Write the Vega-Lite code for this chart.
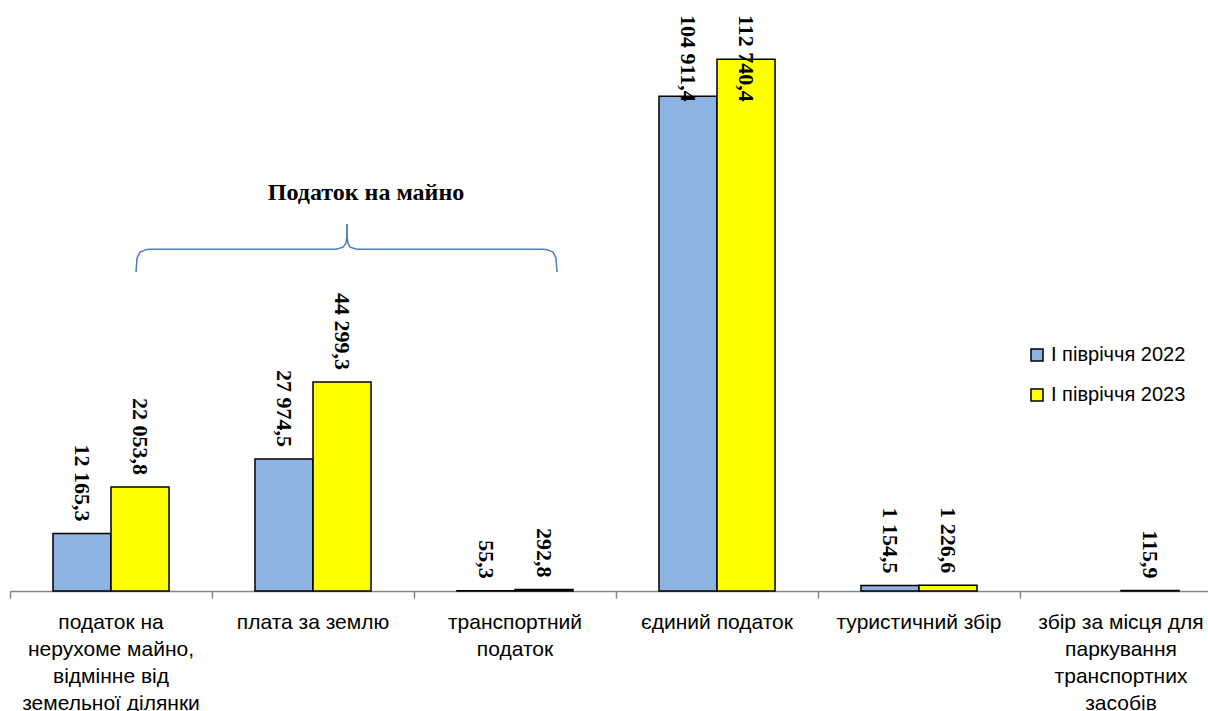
{
  "$schema": "https://vega.github.io/schema/vega-lite/v6.json",
  "width": 1198,
  "height": 566,
  "autosize": {"type": "none"},
  "padding": {"left": 10, "top": 25, "right": 0, "bottom": 120},
  "background": "white",
  "config": {
    "view": {"stroke": null},
    "locale": {"number": {"decimal": ",", "thousands": " ", "grouping": [3], "currency": ["", ""]}}
  },
  "resolve": {"scale": {"x": "independent"}},
  "layer": [
    {
      "data": {"values": [
        {"category": "податок на нерухоме майно, відмінне від земельної ділянки", "period": "I півріччя 2022", "value": 12165.3},
        {"category": "податок на нерухоме майно, відмінне від земельної ділянки", "period": "I півріччя 2023", "value": 22053.8},
        {"category": "плата за землю", "period": "I півріччя 2022", "value": 27974.5},
        {"category": "плата за землю", "period": "I півріччя 2023", "value": 44299.3},
        {"category": "транспортний податок", "period": "I півріччя 2022", "value": 55.3},
        {"category": "транспортний податок", "period": "I півріччя 2023", "value": 292.8},
        {"category": "єдиний податок", "period": "I півріччя 2022", "value": 104911.4},
        {"category": "єдиний податок", "period": "I півріччя 2023", "value": 112740.4},
        {"category": "туристичний збір", "period": "I півріччя 2022", "value": 1154.5},
        {"category": "туристичний збір", "period": "I півріччя 2023", "value": 1226.6},
        {"category": "збір за місця для паркування транспортних засобів", "period": "I півріччя 2023", "value": 115.9}
      ]},
      "encoding": {
        "x": {
          "field": "category", "type": "nominal", "sort": null,
          "scale": {
            "domain": ["податок на нерухоме майно, відмінне від земельної ділянки", "плата за землю", "транспортний податок", "єдиний податок", "туристичний збір", "збір за місця для паркування транспортних засобів"],
            "range": [0, 1212], "paddingInner": 0, "paddingOuter": 0
          },
          "axis": {
            "title": null, "labelAngle": 0, "bandPosition": 0, "labelOffset": 0,
            "domainColor": "#868686", "domainWidth": 1.5, "tickColor": "#868686", "tickSize": 7, "tickWidth": 1.5,
            "labelFont": "Liberation Sans", "labelFontSize": 21, "labelColor": "#000", "labelPadding": 13,
            "labelLineHeight": 27, "labelBaseline": "top", "labelOverlap": false, "labelBound": false, "labelLimit": 0,
            "labelExpr": "datum.value == 'податок на нерухоме майно, відмінне від земельної ділянки' ? ['податок на', 'нерухоме майно,', 'відмінне від', 'земельної ділянки'] : datum.value == 'транспортний податок' ? ['транспортний', 'податок'] : datum.value == 'збір за місця для паркування транспортних засобів' ? ['збір за місця для', 'паркування', 'транспортних', 'засобів'] : datum.value"
          }
        },
        "xOffset": {
          "field": "period", "type": "nominal",
          "scale": {"domain": ["I півріччя 2022", "I півріччя 2023"], "paddingInner": 0, "paddingOuter": 0.741}
        },
        "y": {"field": "value", "type": "quantitative", "scale": {"domain": [0, 120000], "nice": false}, "axis": null}
      },
      "layer": [
        {
          "mark": {"type": "bar", "stroke": "#000", "strokeWidth": 1.5},
          "encoding": {
            "fill": {
              "field": "period", "type": "nominal",
              "scale": {"domain": ["I півріччя 2022", "I півріччя 2023"], "range": ["#8DB3E2", "#FFFF00"]},
              "legend": {
                "orient": "none", "legendX": 1017, "legendY": 320, "title": null, "padding": 0,
                "symbolType": "square", "symbolSize": 144, "symbolStrokeColor": "#000", "symbolStrokeWidth": 1.5,
                "labelFont": "Liberation Sans", "labelFontSize": 20, "labelColor": "#000", "rowPadding": 20, "labelOffset": 4
              }
            }
          }
        },
        {
          "transform": [{"filter": "datum.value < 100000"}],
          "mark": {"type": "text", "angle": 90, "align": "right", "baseline": "middle", "dx": -12, "font": "Liberation Serif", "fontWeight": "bold", "fontSize": 22, "color": "#000"},
          "encoding": {"text": {"field": "value", "type": "quantitative", "format": ",.1f"}}
        },
        {
          "transform": [{"filter": "datum.value >= 100000"}],
          "mark": {"type": "text", "angle": 90, "align": "left", "baseline": "middle", "dx": -10, "font": "Liberation Serif", "fontWeight": "bold", "fontSize": 22, "color": "#000"},
          "encoding": {
            "y": {"datum": 120000, "type": "quantitative"},
            "text": {"field": "value", "type": "quantitative", "format": ",.1f"}
          }
        }
      ]
    },
    {
      "layer": [
        {
          "data": {"values": [
            {"u": 0.6238, "v": 67602, "half": "L", "ord": 1},
            {"u": 0.6287, "v": 70569, "half": "L", "ord": 2},
            {"u": 0.6436, "v": 71840, "half": "L", "ord": 3},
            {"u": 0.6733, "v": 72370, "half": "L", "ord": 4},
            {"u": 0.6931, "v": 72476, "half": "L", "ord": 5},
            {"u": 1.6139, "v": 72476, "half": "L", "ord": 6},
            {"u": 1.6485, "v": 72900, "half": "L", "ord": 7},
            {"u": 1.6634, "v": 73748, "half": "L", "ord": 8},
            {"u": 1.6683, "v": 75231, "half": "L", "ord": 9},
            {"u": 1.6683, "v": 77774, "half": "L", "ord": 10},
            {"u": 2.7079, "v": 67602, "half": "R", "ord": 1},
            {"u": 2.7030, "v": 70569, "half": "R", "ord": 2},
            {"u": 2.6881, "v": 71840, "half": "R", "ord": 3},
            {"u": 2.6584, "v": 72370, "half": "R", "ord": 4},
            {"u": 2.6386, "v": 72476, "half": "R", "ord": 5},
            {"u": 1.7178, "v": 72476, "half": "R", "ord": 6},
            {"u": 1.6832, "v": 72900, "half": "R", "ord": 7},
            {"u": 1.6733, "v": 73748, "half": "R", "ord": 8},
            {"u": 1.6683, "v": 75231, "half": "R", "ord": 9},
            {"u": 1.6683, "v": 77774, "half": "R", "ord": 10}
          ]},
          "mark": {"type": "line", "stroke": "#4A7EBB", "strokeWidth": 1.5, "interpolate": "linear"},
          "encoding": {
            "x": {"field": "u", "type": "quantitative", "scale": {"domain": [0, 6], "range": [0, 1212], "nice": false, "zero": false}, "axis": null},
            "y": {"field": "v", "type": "quantitative", "axis": null},
            "detail": {"field": "half", "type": "nominal"},
            "order": {"field": "ord", "type": "quantitative"}
          }
        },
        {
          "data": {"values": [{"u": 1.7624, "v": 84343, "label": "Податок на майно"}]},
          "mark": {"type": "text", "font": "Liberation Serif", "fontWeight": "bold", "fontSize": 24, "color": "#000", "align": "center", "baseline": "middle"},
          "encoding": {
            "x": {"field": "u", "type": "quantitative", "axis": null},
            "y": {"field": "v", "type": "quantitative", "axis": null},
            "text": {"field": "label", "type": "nominal"}
          }
        }
      ]
    }
  ]
}
